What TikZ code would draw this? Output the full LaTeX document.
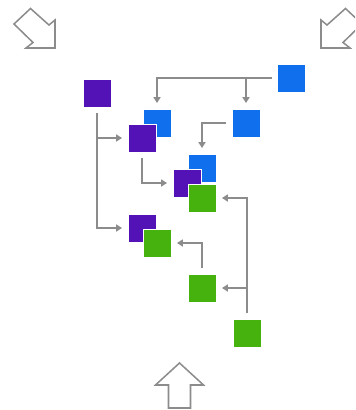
\documentclass[tikz,border=0pt]{standalone}
\usetikzlibrary{arrows.meta}
\definecolor{tilepurple}{HTML}{5312B5}
\definecolor{tileblue}{HTML}{0F6FEC}
\definecolor{tilegreen}{HTML}{45B20D}
\definecolor{linegray}{HTML}{8C8C8C}
\tikzset{
	tile/.style={draw=white, line width=0.4pt, inner sep=0pt, minimum size=0.84cm, outer sep=0.18cm},
	purpletile/.style={tile, fill=tilepurple},
	bluetile/.style={tile, fill=tileblue},
	greentile/.style={tile, fill=tilegreen},
	flow/.style={draw=linegray, line width=1.3pt, -{Triangle[length=5pt,width=6pt]}},
	bigarrow/.style={draw=linegray, line width=1.3pt, fill=white, line join=miter}
}
\begin{document}
\begin{tikzpicture}[x=0.03cm, y=-0.03cm]
	\clip (0,0) rectangle (355,410);
	% Hollow arrows
	\draw[bigarrow] (55,48) -- (26,48) -- (33,42.5) -- (14,24) -- (30.5,8.5) -- (49,25) -- (55,20) -- cycle;
	\draw[bigarrow] (321,48) -- (350,48) -- (343,42.5) -- (362,24) -- (345.5,8.5) -- (327,25) -- (321,20) -- cycle;
	\draw[bigarrow] (179.5,363) -- (203.5,385) -- (190.5,385) -- (190.5,408) -- (168.5,408) -- (168.5,385) -- (155.5,385) -- cycle;
	% Tiles, back to front
	\node[purpletile] (P1) at (97,93) {};
	\node[bluetile] (B1) at (291.5,78) {};
	\node[bluetile] (B2) at (157,123) {};
	\node[purpletile] (P2) at (142,138) {};
	\node[bluetile] (B3) at (246,123) {};
	\node[bluetile] (B4) at (202,168) {};
	\node[purpletile] (P3) at (187,183) {};
	\node[greentile] (G1) at (202,198) {};
	\node[purpletile] (P4) at (142,228) {};
	\node[greentile] (G2) at (157,243) {};
	\node[greentile] (G3) at (202,288) {};
	\node[greentile] (G4) at (247,333) {};
	% Connectors
	\draw[flow] (B1.west) -| (B2.north);
	\draw[flow] (B1.west) -| (B3.north);
	\draw[flow] (B3.west) -| (B4.north);
	\draw[flow] (P1.south) |- (P2.west);
	\draw[flow] (P1.south) |- (P4.west);
	\draw[flow] (P2.south) |- (P3.west);
	\draw[flow] (G4.north) |- (G1.east);
	\draw[flow] (G4.north) |- (G3.east);
	\draw[flow] (G3.north) |- (G2.east);
\end{tikzpicture}
\end{document}
